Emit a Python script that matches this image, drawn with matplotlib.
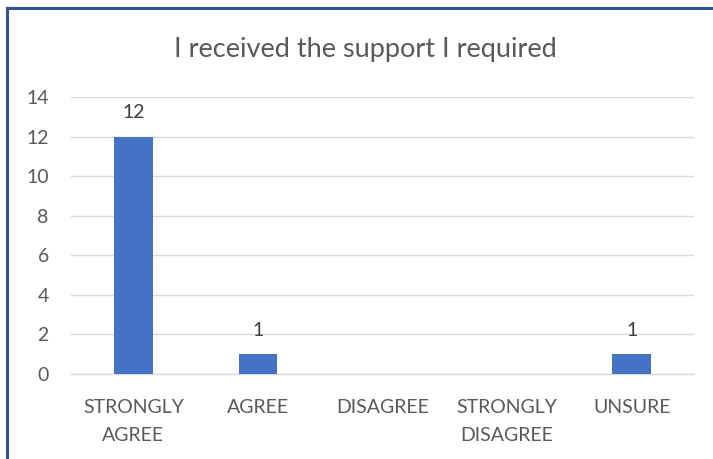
import matplotlib
matplotlib.use("Agg")
import matplotlib.pyplot as plt
from matplotlib.lines import Line2D

categories = ["STRONGLY\nAGREE", "AGREE", "DISAGREE", "STRONGLY\nDISAGREE", "UNSURE"]
values = [12, 1, 0, 0, 1]
labels = ["12", "1", "", "", "1"]
yticks = [0, 2, 4, 6, 8, 10, 12, 14]
title = "I received the support I required"

plt.rcParams['font.family'] = ['Lato', 'DejaVu Sans']
fig = plt.figure(figsize=(7.13, 4.59), dpi=100)
ax = fig.add_axes([71/713, 1-374/459, (694-71)/713, (374-97)/459])

x = list(range(len(categories)))
bars = ax.bar(x, values, width=0.31, color="#4472C4", zorder=3)
for xi, v, lab in zip(x, values, labels):
    if lab:
        ax.annotate(lab, (xi, v), xytext=(0, 11), textcoords="offset points",
                    ha="center", va="bottom", fontsize=14, color="#404040")

ax.set_xlim(-0.5, len(categories) - 0.5)
ax.set_ylim(0, 14)
ax.set_yticks(yticks)
ax.set_yticklabels([str(t) for t in yticks])
ax.set_xticks(x)
ax.set_xticklabels(categories, linespacing=1.8)
ax.tick_params(axis='both', length=0, colors="#595959", labelsize=14)
ax.tick_params(axis='y', pad=16)
ax.tick_params(axis='x', pad=18)
ax.grid(axis='y', color="#D9D9D9", linewidth=1, zorder=0)
for s in ["top", "right", "left"]:
    ax.spines[s].set_visible(False)
ax.spines["bottom"].set_color("#D9D9D9")
ax.spines["bottom"].set_linewidth(1)

fig.text(365/713, 1-49/459, title, ha="center", va="center", fontsize=19.5, color="#595959")

# chart border (top and left)
fig.add_artist(Line2D([7/713, 1], [1-8/459, 1-8/459], color="#2F5597", linewidth=2.2, transform=fig.transFigure))
fig.add_artist(Line2D([7/713, 7/713], [0, 1-8/459], color="#2F5597", linewidth=2.2, transform=fig.transFigure))

fig.savefig("out.png", dpi=100)
